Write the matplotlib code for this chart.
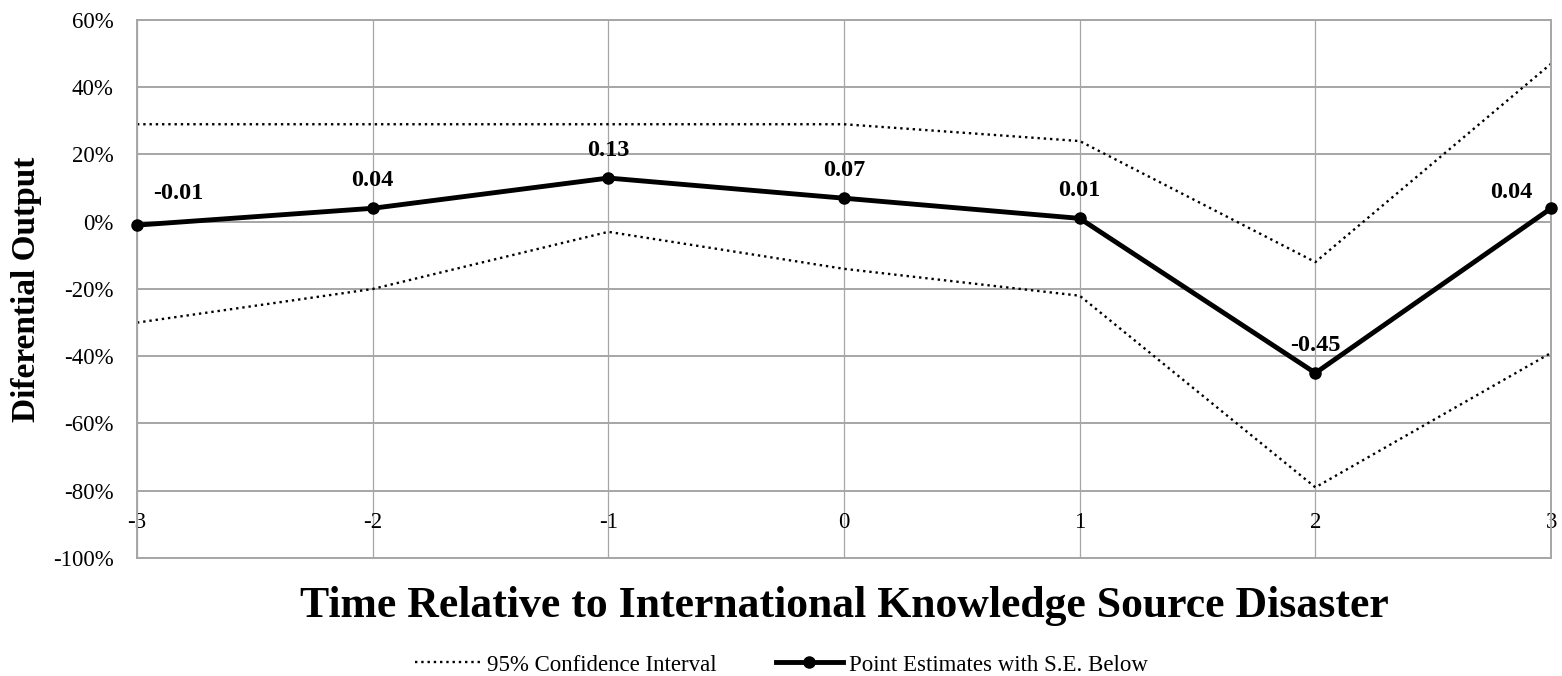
import numpy as np
import matplotlib.pyplot as plt
from matplotlib.ticker import PercentFormatter

plt.rcParams['font.family'] = ['Liberation Serif', 'DejaVu Serif']
plt.rcParams['axes.unicode_minus'] = False

# DATA
periods = [-3, -2, -1, 0, 1, 2, 3]
estimates = [-0.01, 0.04, 0.13, 0.07, 0.01, -0.45, 0.04]
upper_ci = [0.29, 0.29, 0.29, 0.29, 0.24, -0.12, 0.47]
lower_ci = [-0.30, -0.20, -0.03, -0.14, -0.22, -0.79, -0.39]
yticks = [-1.0, -0.8, -0.6, -0.4, -0.2, 0.0, 0.2, 0.4, 0.6]

fig = plt.figure(figsize=(15.62, 6.76), dpi=100)
ax = fig.add_axes([0.0877, 0.1746, 0.9053, 0.7958])

grid_col = '#a6a6a6'

# CONFIDENCE INTERVAL
ax.plot(periods, upper_ci, color='black', linestyle=':', linewidth=1.7,
        label='95% Confidence Interval')
ax.plot(periods, lower_ci, color='black', linestyle=':', linewidth=1.7)

# POINT ESTIMATES
ax.plot(periods, estimates, color='black', linewidth=3.5, marker='o',
        markersize=8, label='Point Estimates with S.E. Below', zorder=5,
        clip_on=False)

# DATA LABELS
for i in range(len(periods)):
    if i == 0:
        off, ha = (16, 32), 'left'
    elif i == len(periods) - 1:
        off, ha = (-19, 16), 'right'
    else:
        off, ha = (0, 28), 'center'
    ax.annotate('%.2f' % estimates[i], (periods[i], estimates[i]),
                xytext=off, textcoords='offset pixels', ha=ha, va='center',
                fontsize=17.5, fontweight='bold')

ax.set_xlim(-3, 3)
ax.set_ylim(-1.0, 0.6)
ax.set_xticks(periods)
ax.set_yticks(yticks)
ax.yaxis.set_major_formatter(PercentFormatter(1.0, decimals=0))
ax.xaxis.grid(True, color=grid_col, linewidth=0.9)
ax.yaxis.grid(True, color=grid_col, linewidth=1.4)
ax.set_axisbelow(True)
for s in ax.spines.values():
    s.set_color(grid_col)
    s.set_linewidth(1.4)
ax.tick_params(axis='both', length=0, labelsize=16.5)
ax.tick_params(axis='x', pad=-33)
ax.tick_params(axis='y', pad=17)

ax.set_xlabel('Time Relative to International Knowledge Source Disaster',
              fontsize=31.5, fontweight='bold', labelpad=20)
ax.set_ylabel('Diferential Output', fontsize=24, fontweight='bold', labelpad=8)

fig.legend(loc='center', bbox_to_anchor=(0.5, 1 - 665 / 676), ncol=2,
           frameon=False, fontsize=16.5, handlelength=2.9, columnspacing=2.6,
           handletextpad=0.26)

plt.savefig('out.png', dpi=100)
